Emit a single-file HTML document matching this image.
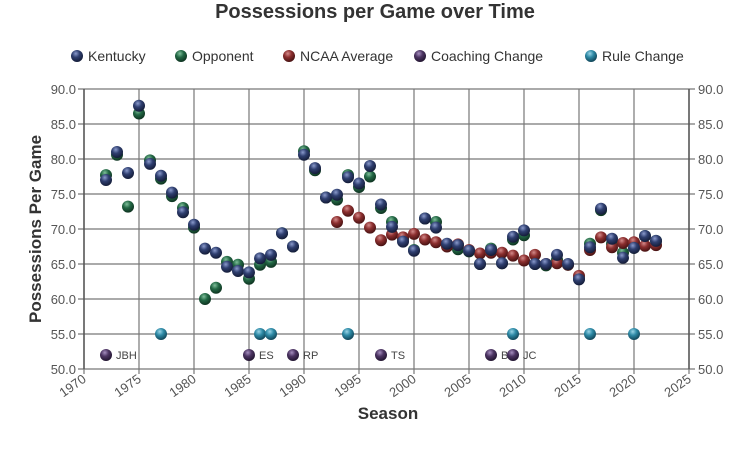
<!DOCTYPE html>
<html><head><meta charset="utf-8"><style>
body{margin:0;background:#fff;width:750px;height:456px;overflow:hidden}
svg{display:block;font-family:"Liberation Sans",sans-serif}
</style></head><body>
<svg id="s" width="750" height="456" viewBox="0 0 750 456">
<defs>
<radialGradient id="gb" cx="40%" cy="30%" r="70%"><stop offset="0" stop-color="#8a9acc"/><stop offset="0.45" stop-color="#2f3f70"/><stop offset="1" stop-color="#141c38"/></radialGradient>
<radialGradient id="gg" cx="40%" cy="30%" r="70%"><stop offset="0" stop-color="#7fbf9a"/><stop offset="0.45" stop-color="#236845"/><stop offset="1" stop-color="#0e3320"/></radialGradient>
<radialGradient id="gr" cx="40%" cy="30%" r="70%"><stop offset="0" stop-color="#d48a8a"/><stop offset="0.45" stop-color="#8c2f2f"/><stop offset="1" stop-color="#471212"/></radialGradient>
<radialGradient id="gp" cx="40%" cy="30%" r="70%"><stop offset="0" stop-color="#a58ebf"/><stop offset="0.45" stop-color="#4d3563"/><stop offset="1" stop-color="#221530"/></radialGradient>
<radialGradient id="gt" cx="40%" cy="30%" r="70%"><stop offset="0" stop-color="#9ad4e6"/><stop offset="0.45" stop-color="#2e8aa6"/><stop offset="1" stop-color="#114558"/></radialGradient>
</defs>
<text x="375" y="18" text-anchor="middle" font-size="20" font-weight="bold" fill="#333">Possessions per Game over Time</text>
<g font-size="14" fill="#333">
<circle cx="77" cy="56" r="6" fill="url(#gb)"/><text x="88" y="61">Kentucky</text>
<circle cx="181" cy="56" r="6" fill="url(#gg)"/><text x="192" y="61">Opponent</text>
<circle cx="289" cy="56" r="6" fill="url(#gr)"/><text x="300" y="61">NCAA Average</text>
<circle cx="420" cy="56" r="6" fill="url(#gp)"/><text x="431" y="61">Coaching Change</text>
<circle cx="591" cy="56" r="6" fill="url(#gt)"/><text x="602" y="61">Rule Change</text>
</g>
<g id="grid"></g>
<g id="pts"></g>
<text transform="translate(41,229) rotate(-90)" text-anchor="middle" font-size="17" font-weight="bold" fill="#333">Possessions Per Game</text>
<text x="388" y="419" text-anchor="middle" font-size="17" font-weight="bold" fill="#333">Season</text>
</svg>
<script>
var NS="http://www.w3.org/2000/svg";
function X(y){return 84+(y-1970)*11;}
function Y(v){return 89+(90-v)*7;}
function el(p,t,a,txt){var e=document.createElementNS(NS,t);for(var k in a)e.setAttribute(k,a[k]);if(txt)e.textContent=txt;p.appendChild(e);return e;}
var g=document.getElementById("grid");
for(var v=50;v<=90;v+=5){var y=Y(v);
el(g,"line",{x1:78,x2:695,y1:y,y2:y,stroke:"#777","stroke-width":1.2});
el(g,"text",{x:76,y:y+5,"text-anchor":"end","font-size":13,fill:"#555"},v.toFixed(1));
el(g,"text",{x:698,y:y+5,"font-size":13,fill:"#555"},v.toFixed(1));}
for(var yr=1970;yr<=2025;yr+=5){var x=X(yr);
el(g,"line",{x1:x,x2:x,y1:89,y2:374,stroke:"#777","stroke-width":1.2});
el(g,"text",{transform:"translate("+(x+3)+",381) rotate(-35)","text-anchor":"end","font-size":13,fill:"#555"},""+yr);}
el(g,"line",{x1:84,x2:84,y1:89,y2:369,stroke:"#555","stroke-width":1.5});
el(g,"line",{x1:689,x2:689,y1:89,y2:369,stroke:"#555","stroke-width":1.5});
var K=[77.0,81,78,87.6,79.3,77.6,75.2,72.4,70.6,67.2,66.6,64.6,64.0,63.8,65.8,66.3,69.4,67.5,80.6,78.7,74.5,74.9,77.4,76.5,79.0,73.5,70.3,68.2,66.9,71.5,70.2,67.9,67.7,66.9,65.0,67.0,65.1,68.9,69.8,65.0,65.0,66.3,65.0,62.8,67.4,72.9,68.6,65.9,67.3,69.0,68.3];
var O=[77.7,80.6,73.2,86.5,79.8,77.2,74.7,73.0,70.2,60.0,61.6,65.3,64.9,62.9,64.9,65.3,69.4,67.5,81.1,78.4,74.5,74.2,77.7,76.0,77.5,73.0,71.0,68.5,67,71.5,71.0,67.7,67.1,66.8,65,67.2,65.1,68.5,69.1,65,64.8,65.6,64.9,62.9,67.9,72.7,67.9,66.6,67.3,69,68.3];
var N=[71.0,72.6,71.6,70.2,68.4,69.2,68.8,69.3,68.5,68.1,67.5,67.8,67.0,66.5,66.6,66.6,66.2,65.5,66.3,65.0,65.1,64.9,63.3,67.0,68.8,67.4,68.0,68.1,67.6,67.7];
var p=document.getElementById("pts");
function dot(yr,v,f){el(p,"circle",{cx:X(yr),cy:Y(v),r:6,fill:"url(#"+f+")"});}
O.forEach(function(v,i){dot(1972+i,v,"gg");});
N.forEach(function(v,i){dot(1993+i,v,"gr");});
K.forEach(function(v,i){dot(1972+i,v,"gb");});
[1977,1986,1987,1994,2009,2016,2020].forEach(function(yr){dot(yr,55,"gt");});
[[1972,"JBH"],[1985,"ES"],[1989,"RP"],[1997,"TS"],[2007,"BG"],[2009,"JC"]].forEach(function(c){
el(p,"text",{x:X(c[0])+10,y:Y(52)+4,"font-size":11,fill:"#444"},c[1]);dot(c[0],52,"gp");});
</script>
</body></html>
